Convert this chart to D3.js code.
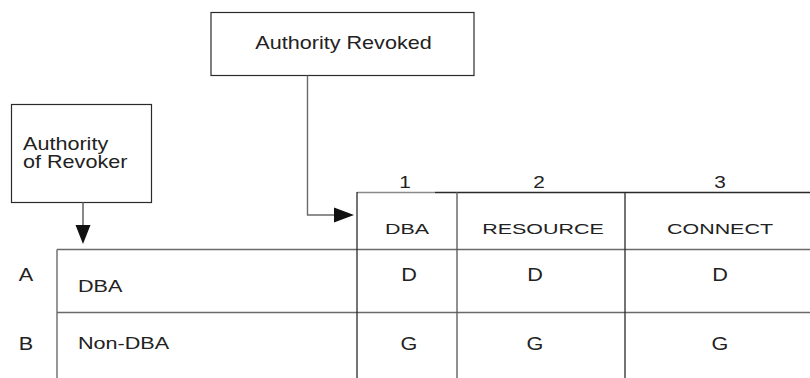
<!DOCTYPE html>
<html>
<head>
<meta charset="utf-8">
<script src="https://cdn.jsdelivr.net/npm/d3@7"></script>
<style>
  html, body { margin: 0; padding: 0; background: #fff; }
  svg { display: block; }
  text { font-family: "Liberation Sans", Arial, Helvetica, sans-serif; fill: #222; }
</style>
</head>
<body>
<svg id="chart" width="810" height="378"></svg>
<script>
// ---- data ----
const revokedTitle = "Authority Revoked";
const revokerTitle = ["Authority", "of Revoker"];
const columnNumbers = ["1", "2", "3"];
const columns = ["DBA", "RESOURCE", "CONNECT"];
const rowKeys = ["A", "B"];
const rows = ["DBA", "Non-DBA"];
const cellValues = [
  ["D", "D", "D"],
  ["G", "G", "G"]
];

// ---- layout ----
const W = 810, H = 378;
const svg = d3.select("#chart");
const dark = "#2a2a2a", gray = "#6a6a6a";
const SX = 1.27, SXH = 1.43, SXB = 1.2, SXC = 1.14;

// column edges (x) and text centres
const colEdge = d3.scaleOrdinal().domain([0, 1, 2, 3]).range([357, 457, 625, 810]);
const colText = d3.scaleOrdinal().domain([0, 1, 2]).range([407, 539, 720]);
const rowTop = d3.scaleOrdinal().domain([0, 1, 2]).range([249.5, 312.5, 378]);
const rowBase = d3.scaleOrdinal().domain([0, 1]).range([281, 349.5]);

function txt(g, x, y, s, size, sx, anchor) {
  return g.append("text")
    .attr("transform", `translate(${x},${y}) scale(${sx},1)`)
    .attr("text-anchor", anchor || "middle")
    .style("font-size", size + "px")
    .text(s);
}
function line(x1, y1, x2, y2, c, w) {
  svg.append("line").attr("x1", x1).attr("y1", y1).attr("x2", x2).attr("y2", y2)
    .attr("stroke", c).attr("stroke-width", w || 1.3);
}

// ---- boxes ----
svg.append("rect").attr("x", 211).attr("y", 12.5).attr("width", 263).attr("height", 63)
  .attr("fill", "none").attr("stroke", dark).attr("stroke-width", 1.2);
txt(svg, 343.5, 49, revokedTitle, 18, SXB);

svg.append("rect").attr("x", 11.5).attr("y", 104.5).attr("width", 140).attr("height", 98)
  .attr("fill", "none").attr("stroke", dark).attr("stroke-width", 1.2);
revokerTitle.forEach((t, i) => txt(svg, 23, 150 + i * 18, t, 18, SXB, "start"));

// ---- connectors ----
svg.append("path").attr("d", "M307.5,75.5 V215 H336")
  .attr("fill", "none").attr("stroke", gray).attr("stroke-width", 1.4);
svg.append("path").attr("d", "M334,207.5 L354,215 L334,222.5 Z").attr("fill", "#111");

line(83, 202.5, 83, 228, gray, 1.6);
svg.append("path").attr("d", "M75.5,225 L83,244 L90.5,225 Z").attr("fill", "#111");

// ---- table grid ----
line(colEdge(0), 192.5, 435, 192.5, "#8a8a8a");
line(435, 192.5, W, 192.5, dark);
line(57, rowTop(0), W, rowTop(0), gray, 1.4);
line(57, rowTop(1), W, rowTop(1), gray, 1.6);
line(57, rowTop(0), 57, H, gray, 1.4);
[0, 1, 2].forEach(i => {
  line(colEdge(i), 192, colEdge(i), H, i === 1 ? "#555" : dark, 1.3);
});

// ---- header text ----
columnNumbers.forEach((n, i) => txt(svg, colText(i) - (i === 0 ? 2 : 0), 187.5, n, 16, 1.3));
columns.forEach((c, i) => txt(svg, colText(i) + (i === 1 ? 4 : 0), 234, c, 15, SXH));

// ---- rows ----
rowKeys.forEach((k, r) => txt(svg, 26, rowBase(r), k, 19, SXC));
rows.forEach((lab, r) => txt(svg, 78, r === 0 ? 292 : 349, lab, 17, SX, "start"));
cellValues.forEach((row, r) => row.forEach((v, c) =>
  txt(svg, colText(c) + (c === 1 ? -4 : c === 0 ? 2 : 0), rowBase(r), v, 19, SXC)));
</script>
</body>
</html>
